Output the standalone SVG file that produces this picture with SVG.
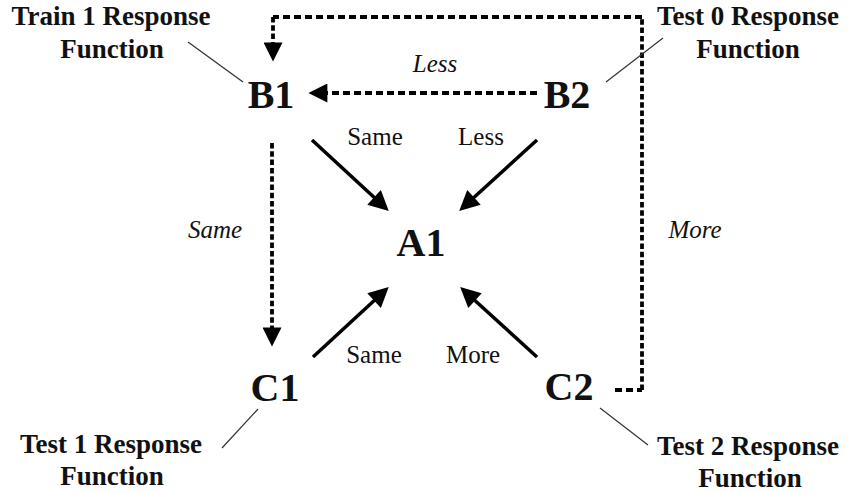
<svg xmlns="http://www.w3.org/2000/svg" width="855" height="494" viewBox="0 0 855 494">
  <defs>
    <style>
      .node { font-family: "Liberation Serif", "Times New Roman", serif; font-weight: bold; font-size: 40px; fill: #111; text-anchor: middle; }
      .note { font-family: "Liberation Serif", "Times New Roman", serif; font-weight: bold; font-size: 27px; fill: #111; text-anchor: middle; }
      .lbl { font-family: "Liberation Serif", "Times New Roman", serif; font-size: 25px; fill: #111; text-anchor: middle; }
      .ital { font-family: "Liberation Serif", "Times New Roman", serif; font-style: italic; font-size: 25px; fill: #111; text-anchor: middle; }
      .leader { stroke: #333; stroke-width: 1.2; fill: none; }
      .solid { stroke: #000; stroke-width: 3.5; fill: none; }
      .dashH { stroke: #000; stroke-width: 3.8; fill: none; stroke-dasharray: 7 4; }
      .dashV { stroke: #000; stroke-width: 3.8; fill: none; stroke-dasharray: 5.5 2.8; }
    </style>
    <marker id="headSolid" viewBox="0 0 10 10" refX="6" refY="5" markerWidth="24" markerHeight="20" markerUnits="userSpaceOnUse" orient="auto">
      <path d="M0,0 L10,5 L0,10 Z" fill="#000"/>
    </marker>
    <marker id="headDash" viewBox="0 0 10 10" refX="6" refY="5" markerWidth="21" markerHeight="19" markerUnits="userSpaceOnUse" orient="auto">
      <path d="M0,0 L10,5 L0,10 Z" fill="#000"/>
    </marker>
  </defs>
  <rect width="855" height="494" fill="#fff"/>

  <!-- connectors -->
  <g id="connectors">
    <line class="solid" x1="312" y1="140" x2="382.9" y2="205.5" marker-end="url(#headSolid)"/>
    <line class="solid" x1="537" y1="140" x2="465.1" y2="205.5" marker-end="url(#headSolid)"/>
    <line class="solid" x1="313" y1="357" x2="382.9" y2="292.5" marker-end="url(#headSolid)"/>
    <line class="solid" x1="537" y1="357" x2="466.1" y2="292.5" marker-end="url(#headSolid)"/>
    <line class="dashH" x1="537" y1="93" x2="316" y2="93" marker-end="url(#headDash)"/>
    <line class="dashV" x1="272" y1="143" x2="272" y2="339" marker-end="url(#headDash)"/>
    <polyline class="dashH" points="615,390 642,390" />
    <polyline class="dashV" points="642,390 642,17" />
    <polyline class="dashH" points="642,17 273,17" />
    <line class="dashV" x1="273" y1="17" x2="273" y2="54" marker-end="url(#headDash)"/>

    <text class="ital" x="435" y="72">Less</text>
    <text class="ital" x="215" y="238">Same</text>
    <text class="ital" x="695" y="238">More</text>
    <text class="lbl" x="375" y="145">Same</text>
    <text class="lbl" x="481" y="145">Less</text>
    <text class="lbl" x="374" y="363">Same</text>
    <text class="lbl" x="473" y="363">More</text>
  </g>

  <!-- nodes -->
  <g id="A1">
    <text class="node" x="421" y="256">A1</text>
  </g>
  <g id="B1">
    <text class="node" x="271" y="108">B1</text>
    <line class="leader" x1="188" y1="42" x2="243" y2="82"/>
    <text class="note" x="111" y="25">Train 1 Response</text>
    <text class="note" x="112" y="58">Function</text>
  </g>
  <g id="B2">
    <text class="node" x="567" y="108">B2</text>
    <line class="leader" x1="663" y1="38" x2="606" y2="82"/>
    <text class="note" x="748" y="25">Test 0 Response</text>
    <text class="note" x="748" y="58">Function</text>
  </g>
  <g id="C1">
    <text class="node" x="275" y="401">C1</text>
    <line class="leader" x1="258" y1="409" x2="222" y2="448"/>
    <text class="note" x="111" y="453">Test 1 Response</text>
    <text class="note" x="112" y="485">Function</text>
  </g>
  <g id="C2">
    <text class="node" x="569" y="400">C2</text>
    <line class="leader" x1="600" y1="408" x2="648" y2="445"/>
    <text class="note" x="748" y="455">Test 2 Response</text>
    <text class="note" x="750" y="487">Function</text>
  </g>
</svg>
